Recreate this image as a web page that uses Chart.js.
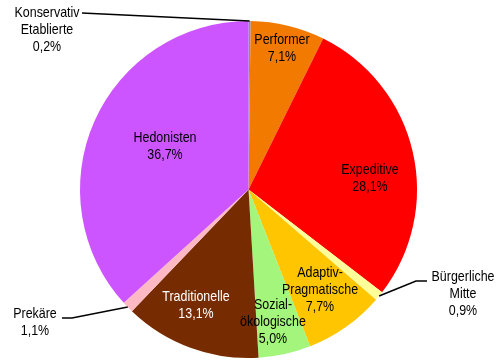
<!DOCTYPE html>
<html>
<head>
<meta charset="utf-8">
<script src="https://cdn.jsdelivr.net/npm/chart.js@4"></script>
<style>
  html, body { margin: 0; padding: 0; background: #fff; }
  #wrap { width: 501px; height: 360px; }
</style>
</head>
<body>
<div id="wrap"><canvas id="chartMilieus" width="501" height="360"></canvas></div>
<script>
// Sinus-Milieus, Anteile in Prozent (im Uhrzeigersinn ab 12 Uhr)
const milieus = ['Konservativ Etablierte', 'Performer', 'Expeditive', 'Bürgerliche Mitte',
    'Adaptiv-Pragmatische', 'Sozial-ökologische', 'Traditionelle', 'Prekäre', 'Hedonisten'];
const anteile = [0.2, 7.1, 28.1, 0.9, 7.7, 5.0, 13.1, 1.1, 36.7];
const farben = ['#7090D8', '#F27A00', '#FF0000', '#FFFF99', '#FFC600', '#A4F57B', '#772B00', '#FFB9C4', '#CC55FF'];

// Beschriftungszeilen je Segment (ohne Prozentwert)
const beschriftung = [
    ['Konservativ', 'Etablierte'], ['Performer'], ['Expeditive'], ['Bürgerliche', 'Mitte'],
    ['Adaptiv-', 'Pragmatische'], ['Sozial-', 'ökologische'], ['Traditionelle'], ['Prekäre'], ['Hedonisten']
];

// Lage der Beschriftung: x = Mitte, y = Grundlinie der ersten Zeile; leader = Knick der Führungslinie
const labelPos = [
    { x: 47, y: 17, color: '#000', leader: [[82, 13]] },
    { x: 282, y: 44, color: '#000' },
    { x: 370, y: 174, color: '#000' },
    { x: 463, y: 281, color: '#000', leader: [[416, 281], [427, 281]] },
    { x: 320, y: 277, color: '#000' },
    { x: 273, y: 309, color: '#000' },
    { x: 196, y: 301, color: '#fff' },
    { x: 35, y: 318, color: '#000', leader: [[72, 318], [62, 318]] },
    { x: 165, y: 142, color: '#000' }
];

const fmt = v => v.toFixed(1).replace('.', ',') + '%';

const beschriftungPlugin = {
    id: 'beschriftung',
    afterDatasetsDraw(chart) {
        const ctx = chart.ctx;
        const arcs = chart.getDatasetMeta(0).data;
        ctx.save();
        arcs.forEach((arc, i) => {
            const p = labelPos[i];
            // Führungslinie vom Kreisrand zur Beschriftung
            if (p.leader) {
                const mid = (arc.startAngle + arc.endAngle) / 2;
                ctx.beginPath();
                ctx.moveTo(arc.x + Math.cos(mid) * arc.outerRadius, arc.y + Math.sin(mid) * arc.outerRadius);
                p.leader.forEach(pt => ctx.lineTo(pt[0], pt[1]));
                ctx.strokeStyle = '#000';
                ctx.lineWidth = 1.5;
                ctx.stroke();
            }
            const zeilen = beschriftung[i].concat([fmt(anteile[i])]);
            ctx.fillStyle = p.color;
            ctx.font = '15px "Liberation Sans", Arial, sans-serif';
            ctx.textAlign = 'center';
            ctx.textBaseline = 'alphabetic';
            zeilen.forEach((z, k) => {
                ctx.save();
                ctx.translate(p.x, p.y + k * 17);
                ctx.scale(0.83, 1);
                ctx.fillText(z, 0, 0);
                ctx.restore();
            });
        });
        ctx.restore();
    }
};

new Chart(document.getElementById('chartMilieus'), {
    type: 'pie',
    data: {
        labels: milieus,
        datasets: [{
            data: anteile,
            backgroundColor: farben,
            borderWidth: 0,
            hoverOffset: 0,
            offset: 0
        }]
    },
    options: {
        responsive: false,
        animation: false,
        events: [],
        layout: {
            padding: { left: 80, right: 84, top: 21, bottom: 2 }
        },
        plugins: {
            legend: { display: false },
            tooltip: { enabled: false }
        }
    },
    plugins: [beschriftungPlugin]
});
</script>
</body>
</html>
